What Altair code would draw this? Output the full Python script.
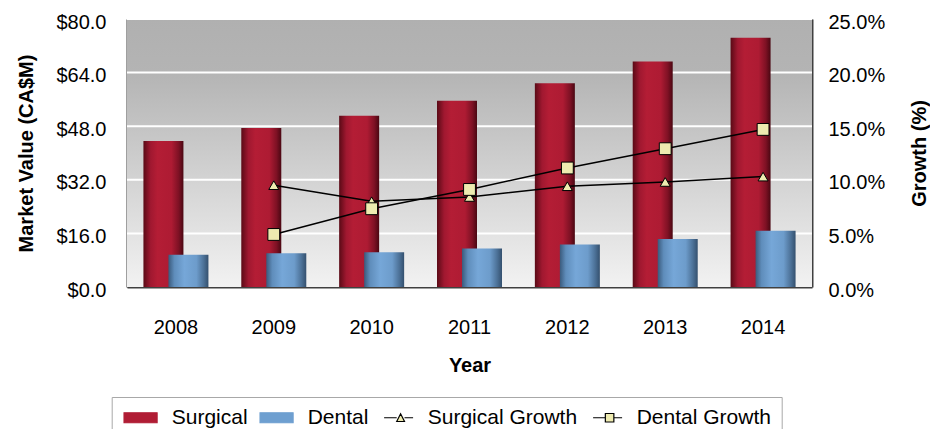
import altair as alt
import pandas as pd

years = ["2008", "2009", "2010", "2011", "2012", "2013", "2014"]
surgical = [43.6, 47.5, 51.1, 55.6, 60.8, 67.3, 74.4]
dental = [9.6, 10.1, 10.4, 11.5, 12.7, 14.3, 16.8]
surgical_growth = [None, 9.5, 8.0, 8.4, 9.4, 9.8, 10.3]
dental_growth = [None, 4.9, 7.3, 9.1, 11.1, 12.9, 14.7]
series_names = ["Surgical", "Dental", "Surgical Growth", "Dental Growth"]
left_ticks = [0, 16, 32, 48, 64, 80]
grid_values = [16, 32, 48, 64, 80]
right_ticks = [0, 5, 10, 15, 20, 25]

FONT = "Liberation Sans, Arial, sans-serif"
RED = "#B01C34"
BLUE = "#6E9FD0"
YELLOW = "#EEEBB0"
AXIS = "#404040"

bar_df = pd.DataFrame({
    "Year": years * 2,
    "series": ["Surgical"] * len(years) + ["Dental"] * len(years),
    "value": surgical + dental,
})
g_rows = []
for y, v in zip(years, surgical_growth):
    if v is not None:
        g_rows.append({"Year": y, "series": "Surgical Growth", "growth": v})
for y, v in zip(years, dental_growth):
    if v is not None:
        g_rows.append({"Year": y, "series": "Dental Growth", "growth": v})
growth_df = pd.DataFrame(g_rows)
grid_df = pd.DataFrame({"value": grid_values})
bg_df = pd.DataFrame({"k": [0]})


def grad(stops, vertical=False):
    return alt.LinearGradient(
        gradient="linear", x1=0, x2=0 if vertical else 1, y1=0, y2=1 if vertical else 0,
        stops=[alt.GradientStop(offset=o, color=c) for o, c in stops],
    )


red_grad = grad([(0, "#5A0A16"), (0.18, "#A01830"), (0.35, "#B41D35"),
                 (0.7, "#AE1B33"), (0.88, "#7E1124"), (1, "#4A0712")])
blue_grad = grad([(0, "#3A5A7C"), (0.15, "#5F8DBB"), (0.4, "#76A7D8"),
                  (0.7, "#6D9CCB"), (0.88, "#4C7197"), (1, "#34506E")])
bg_grad = grad([(0, "#B0B0B0"), (0.2, "#B4B4B4"), (1, "#F2F2F2")], vertical=True)

x_enc = alt.X(
    "Year:O",
    scale=alt.Scale(domain=years, paddingInner=0, paddingOuter=0),
    axis=alt.Axis(title="Year", labelAngle=0, ticks=False, labelPadding=30,
                  domainColor=AXIS, domainWidth=2, titlePadding=18),
)
y_left = alt.Y(
    "value:Q",
    scale=alt.Scale(domain=[0, 80], nice=False),
    axis=alt.Axis(values=left_ticks, labelExpr="'$' + format(datum.value, '.1f')",
                  title="Market Value (CA$M)", grid=False, ticks=False,
                  labelPadding=21, labelOffset=3, domainColor=AXIS, domainWidth=2,
                  titlePadding=19),
)

background = alt.Chart(bg_df).mark_rect(fill=bg_grad).encode(
    x=alt.value(0), x2=alt.value("width"), y=alt.value(0), y2=alt.value("height")
)
grid = alt.Chart(grid_df).mark_rule(color="white", strokeWidth=2).encode(y=y_left)

surg_bars = alt.Chart(bar_df).transform_filter(alt.datum.series == "Surgical").mark_bar(
    width=40, xOffset=-12.5, fill=red_grad
).encode(x=x_enc, y=y_left)
dent_bars = alt.Chart(bar_df).transform_filter(alt.datum.series == "Dental").mark_bar(
    width=40, xOffset=12.5, fill=blue_grad
).encode(x=x_enc, y=y_left)

bars = alt.layer(background, grid, surg_bars, dent_bars)

y_right = alt.Y(
    "growth:Q",
    scale=alt.Scale(domain=[0, 25], nice=False),
    axis=alt.Axis(values=right_ticks, labelExpr="format(datum.value, '.1f') + '%'",
                  title="Growth (%)", orient="right", grid=False, ticks=False,
                  labelPadding=16, labelOffset=3, domainColor=AXIS, domainWidth=2,
                  titleAngle=270, titlePadding=45),
)

# legend symbol outlines (bar swatch, line+triangle, line+square)
P_RECT = "M-1.63,-1H4.98V1H-1.63Z"
P_TRI = "M-0.82,0H1.7M3.26,0H4.98M1.7,0.75L2.48,-0.8L3.26,0.75Z"
P_SQ = "M-0.82,0H1.63M3.33,0H4.98M1.63,-0.85H3.33V0.85H1.63Z"

legend = alt.Legend(
    orient="none", legendX=-15.3, legendY=378, direction="horizontal", columns=4,
    title=None, symbolSize=100, labelFontSize=21, labelFont=FONT, labelOffset=29,
    labelLimit=400, columnPadding=9, strokeColor="#A8A8A8", fillColor="white",
    padding=10, symbolStrokeWidth=1.2, labelColor="black", symbolOpacity=1,
)

lines = alt.Chart(growth_df).mark_line(color="black", strokeWidth=1.5).encode(
    x=x_enc, y=y_right, detail="series:N"
)
tri_points = alt.Chart(growth_df).transform_filter(
    alt.datum.series == "Surgical Growth"
).mark_point(
    shape="triangle-up", filled=True, fill=YELLOW, stroke="black", strokeWidth=1,
    opacity=1, size=100
).encode(x=x_enc, y=y_right)
sq_points = alt.Chart(growth_df).transform_filter(
    alt.datum.series == "Dental Growth"
).mark_point(
    shape="square", filled=True, fill=YELLOW, stroke="black", strokeWidth=1,
    opacity=1, size=140
).encode(x=x_enc, y=y_right)

# invisible layer that only carries the combined legend
legend_carrier = alt.Chart(growth_df).mark_point(filled=True, opacity=0).encode(
    x=x_enc,
    y=y_right,
    color=alt.Color("series:N", scale=alt.Scale(domain=series_names,
                                                range=[RED, BLUE, YELLOW, YELLOW]),
                    legend=legend),
    shape=alt.Shape("series:N", scale=alt.Scale(domain=series_names,
                                                range=[P_RECT, P_RECT, P_TRI, P_SQ]),
                    legend=legend),
    stroke=alt.Stroke("series:N", scale=alt.Scale(domain=series_names,
                                                  range=[RED, BLUE, "black", "black"]),
                      legend=legend),
)

growth = alt.layer(lines, tri_points, sq_points, legend_carrier)

chart = alt.layer(bars, growth).resolve_scale(y="independent").properties(
    width=685, height=268,
    autosize=alt.AutoSizeParams(type="none"),
    padding={"left": 119, "top": 11, "right": 118, "bottom": 142},
).configure(font=FONT).configure_view(
    stroke="#D4D4D4",
).configure_axis(
    labelFont=FONT, labelFontSize=20, labelColor="black",
    titleFont=FONT, titleFontSize=20, titleFontWeight="bold", titleColor="black",
)

chart.save("out.html", embed_options={"renderer": "svg", "actions": False})
